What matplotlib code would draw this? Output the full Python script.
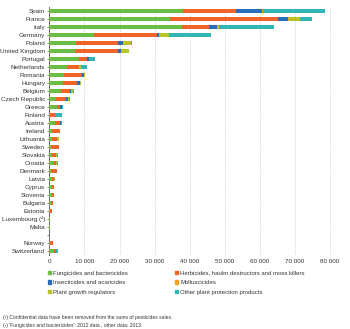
import matplotlib
matplotlib.use('Agg')
import matplotlib.pyplot as plt
from matplotlib.patches import Patch
from matplotlib.ticker import FuncFormatter

plt.rcParams['font.family'] = ['Liberation Sans', 'DejaVu Sans']

# Countries top to bottom ('' is the gap before the non-EU countries)
countries = ['Spain', 'France', 'Italy', 'Germany', 'Poland', 'United Kingdom',
             'Portugal', 'Netherlands', 'Romania', 'Hungary', 'Belgium',
             'Czech Republic', 'Greece', 'Finland', 'Austria', 'Ireland',
             'Lithuania', 'Sweden', 'Slovakia', 'Croatia', 'Denmark', 'Latvia',
             'Cyprus', 'Slovenia', 'Bulgaria', 'Estonia', 'Luxembourg (²)',
             'Malta', '', 'Norway', 'Switzerland']

# Sales in tonnes, by product group
fungicides = [38200, 34400, 37800, 12850, 7600, 7250, 8400, 5050, 4200, 3800,
              3350, 1900, 2100, 200, 1700, 700, 700, 480, 700, 1250, 400, 700,
              800, 870, 400, 100, 100, 100, 0, 100, 1250]
herbicides = [15040, 30800, 7800, 17800, 12000, 12350, 2450, 3330, 5050, 4000,
              2450, 2950, 950, 1500, 1350, 2250, 1500, 2200, 1300, 650, 1700,
              750, 450, 370, 650, 550, 150, 0, 0, 900, 750]
insecticides = [7410, 2700, 2200, 700, 1400, 750, 550, 180, 550, 950, 480, 400,
                570, 0, 370, 0, 0, 0, 0, 0, 0, 0, 0, 0, 0, 0, 0, 0, 0, 0, 0]
molluscicides = [350, 400, 200, 300, 100, 0, 0, 0, 0, 0, 50, 0, 0, 0, 0, 0, 0,
                 0, 0, 0, 0, 0, 0, 0, 0, 0, 0, 0, 0, 0, 0]
growth_regulators = [0, 3200, 300, 2400, 2300, 2350, 0, 480, 380, 200, 350, 300,
                     0, 0, 0, 50, 550, 100, 100, 150, 0, 200, 0, 0, 0, 0, 50,
                     50, 0, 0, 0]
other_products = [17600, 3500, 15600, 11950, 200, 0, 1650, 1700, 0, 100, 350,
                  250, 380, 2000, 100, 0, 0, 0, 250, 300, 0, 0, 0, 0, 0, 0, 0,
                  0, 0, 0, 400]

series = [
    ('Fungicides and bactericides', fungicides, '#6abd45'),
    ('Herbicides, haulm destructors and moss killers', herbicides, '#f0642a'),
    ('Insecticides and acaricides', insecticides, '#2a6ebb'),
    ('Molluscicides', molluscicides, '#f5a21e'),
    ('Plant growth regulators', growth_regulators, '#b8c424'),
    ('Other plant protection products', other_products, '#35b4b4'),
]

fig = plt.figure(figsize=(3.5, 3.29), dpi=100)
ax = fig.add_axes([0.141, 0.2255, 0.812, 0.7525])

ypos = list(range(len(countries)))
left = [0] * len(countries)
for name, vals, col in series:
    ax.barh(ypos, vals, left=left, height=0.5, color=col, label=name, zorder=3)
    left = [a + b for a, b in zip(left, vals)]

ax.set_ylim(len(countries) - 0.5, -0.5)
ax.set_xlim(0, 81000)
ax.set_yticks(ypos)
ax.set_yticklabels(countries, fontsize=4.6, color='#333333')
ax.set_xticks(range(0, 80001, 10000))
ax.xaxis.set_major_formatter(FuncFormatter(lambda v, p: f'{int(v):,}'.replace(',', ' ')))
ax.tick_params(axis='x', length=0, labelsize=4.5, colors='#333333', pad=3)
ax.tick_params(axis='y', length=1.5, width=0.5, color='#555555', pad=1.5)
ax.grid(axis='x', color='#cccccc', linestyle=(0, (2, 1.5)), linewidth=0.5, zorder=0)
for s in ['top', 'right', 'bottom']:
    ax.spines[s].set_visible(False)
ax.spines['left'].set_color('#555555')
ax.spines['left'].set_linewidth(0.6)

# Legend: two columns, filled row by row
handles = [Patch(color=c, label=n) for n, v, c in series]
kw = dict(frameon=False, fontsize=4.3, handlelength=0.55, handleheight=0.55,
          handletextpad=0.3, labelspacing=0.75, borderaxespad=0, borderpad=0,
          labelcolor='#333333')
fig.legend(handles=handles[0::2], loc='upper left', bbox_to_anchor=(0.137, 0.177), **kw)
fig.legend(handles=handles[1::2], loc='upper left', bbox_to_anchor=(0.5, 0.177), **kw)

fig.text(0.008, 0.031, '(¹) Confidential data have been removed from the sums of pesticides sales.',
         fontsize=3.6, color='#333333')
fig.text(0.008, 0.007, "(²) 'Fungicides and bactericides': 2012 data , other data: 2013.",
         fontsize=3.6, color='#333333')

fig.savefig('out.png', dpi=100)
